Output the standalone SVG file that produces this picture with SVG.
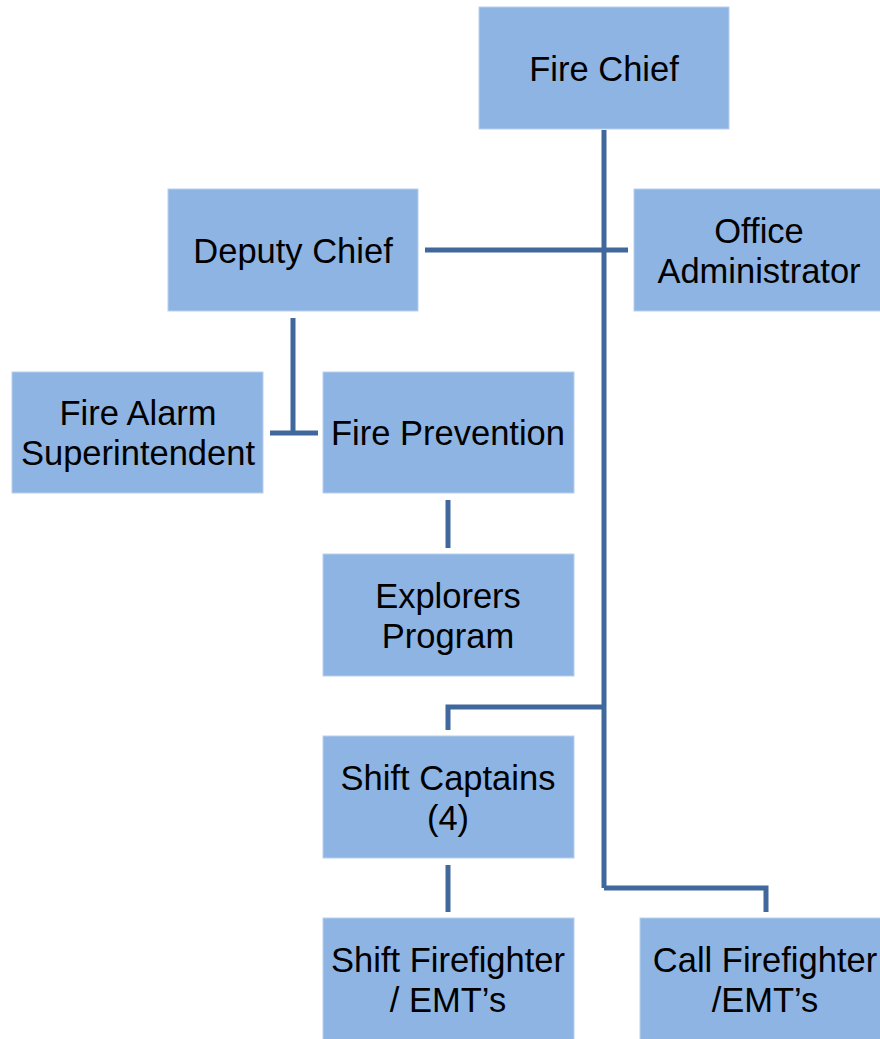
<svg xmlns="http://www.w3.org/2000/svg" width="880" height="1039" viewBox="0 0 880 1039">
<style>
.box{fill:#8eb4e3;stroke:#b8d0ee;stroke-width:1}
.t{font-family:"Liberation Sans",Arial,sans-serif;font-size:34.5px;fill:#000;text-anchor:middle}
.c{fill:none;stroke:#41689c;stroke-width:5;stroke-linejoin:miter}
</style>
<rect width="880" height="1039" fill="#fff"/>
<g id="connectors">
<path class="c" d="M604 130 V888"/>
<path class="c" d="M425 250 H628"/>
<path class="c" d="M293 318 V433 M270 433 H318"/>
<path class="c" d="M448 500 V548"/>
<path class="c" d="M604 707 H448 V730"/>
<path class="c" d="M448 865 V912"/>
<path class="c" d="M604 888 H766 V912"/>
</g>
<g id="fire-chief"><rect class="box" x="479" y="7" width="250" height="122"/><text class="t" x="604" y="81">Fire Chief</text></g>
<g id="deputy-chief"><rect class="box" x="168" y="189" width="250" height="122"/><text class="t" x="293" y="263">Deputy Chief</text></g>
<g id="office-administrator"><rect class="box" x="634" y="189" width="250" height="122"/><text class="t" x="759" y="243">Office</text><text class="t" x="759" y="283">Administrator</text></g>
<g id="fire-alarm-superintendent"><rect class="box" x="12" y="372" width="251" height="121"/><text class="t" x="138" y="425">Fire Alarm</text><text class="t" x="138" y="465">Superintendent</text></g>
<g id="fire-prevention"><rect class="box" x="323" y="372" width="251" height="121"/><text class="t" x="448" y="445">Fire Prevention</text></g>
<g id="explorers-program"><rect class="box" x="323" y="554" width="251" height="122"/><text class="t" x="448" y="608">Explorers</text><text class="t" x="448" y="648">Program</text></g>
<g id="shift-captains"><rect class="box" x="323" y="736" width="251" height="122"/><text class="t" x="448" y="790">Shift Captains</text><text class="t" x="448" y="830">(4)</text></g>
<g id="shift-firefighter"><rect class="box" x="323" y="918" width="251" height="122"/><text class="t" x="448" y="972">Shift Firefighter</text><text class="t" x="448" y="1012">/ EMT’s</text></g>
<g id="call-firefighter"><rect class="box" x="640" y="918" width="250" height="122"/><text class="t" x="765" y="972">Call Firefighter</text><text class="t" x="765" y="1012">/EMT’s</text></g>
</svg>
